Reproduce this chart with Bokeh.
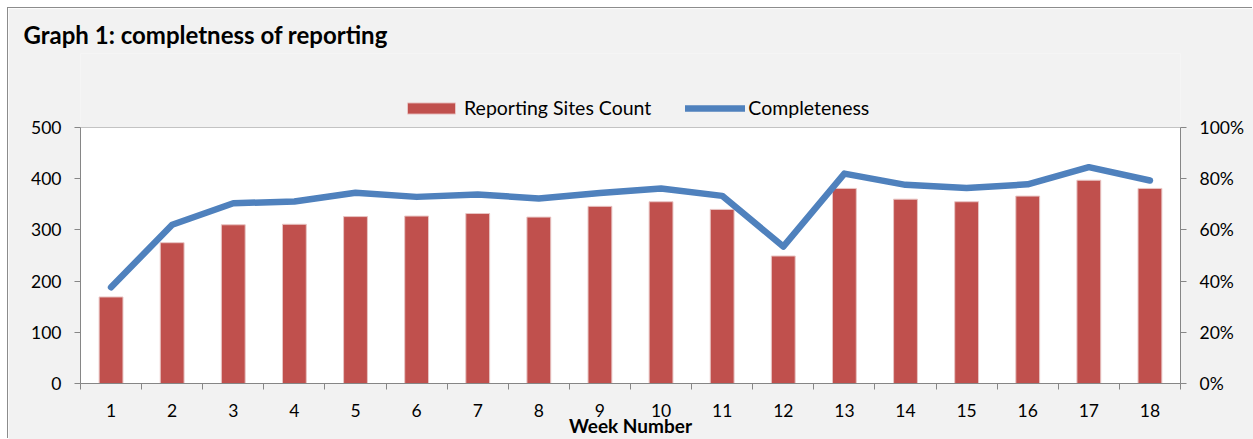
from bokeh.plotting import figure
from bokeh.models import (Range1d, LinearAxis, FixedTicker, PrintfTickFormatter,
                          Legend, LegendItem, Title, BoxAnnotation, ColumnDataSource)
from bokeh.embed import file_html
from bokeh.resources import INLINE

# ---- data ----
weeks = list(range(1, 19))
week_labels = [str(w) for w in weeks]
sites_count = [169, 275, 310, 311, 326, 327, 332, 325, 346, 355, 340, 249, 381, 360, 355, 366, 397, 381]
completeness = [37.6, 62.0, 70.4, 71.1, 74.5, 72.9, 73.8, 72.3, 74.4, 76.2, 73.3, 53.5, 82.0, 77.6, 76.4, 77.8, 84.5, 79.3]
left_ticks = [0, 100, 200, 300, 400, 500]
right_ticks = [0, 20, 40, 60, 80, 100]

title_text = "Graph 1: completness of reporting"
series_bar = "Reporting Sites Count"
series_line = "Completeness"
x_title = "Week Number"

FONT = "Lato"
GRAY = "#868686"
RED = "#C0504D"
BLUE = "#4F81BD"

# layout (pixels)
W, H = 1245, 431
B_LEFT, B_RIGHT, B_TOP, B_BOTTOM = 72, 73, 45, 56
AXIS_PX = 256          # pixel height of the 0..500 axis span
frame_h = H - B_TOP - B_BOTTOM
y_max = left_ticks[-1] * frame_h / AXIS_PX
pct_max = right_ticks[-1] * frame_h / AXIS_PX

src = ColumnDataSource(dict(week=weeks, count=sites_count, pct=completeness))

x0, x1 = weeks[0] - 0.5, weeks[-1] + 0.5
p = figure(width=W, height=H, output_backend="svg", toolbar_location=None,
           x_range=Range1d(x0, x1), y_range=Range1d(0, y_max),
           min_border_left=B_LEFT, min_border_right=B_RIGHT,
           min_border_top=B_TOP, min_border_bottom=B_BOTTOM,
           styles={"margin-left": "8px", "margin-top": "8px",
                   "box-shadow": "-1px -1px 0 0 #8C8C8C"})
p.extra_y_ranges = {"pct": Range1d(0, pct_max)}

p.background_fill_color = "#F2F2F2"
p.border_fill_color = "#F2F2F2"
p.outline_line_color = None

# white plot area (0..500 of the left axis)
p.add_layout(BoxAnnotation(left=x0, right=x1, bottom=left_ticks[0], top=left_ticks[-1],
                           fill_color="white", fill_alpha=1, line_color=None,
                           level="underlay"))

bars = p.vbar(x="week", top="count", width=0.39, source=src, fill_color=RED,
              line_color="#E8C5C4", line_width=1)
line = p.line(x="week", y="pct", source=src, y_range_name="pct", line_color=BLUE,
              line_width=6.5, line_cap="round", line_join="round")

# x axis
xa = p.xaxis[0]
xa.ticker = FixedTicker(ticks=weeks, minor_ticks=[w - 0.5 for w in weeks] + [x1])
xa.major_label_overrides = {w: lab for w, lab in zip(weeks, week_labels)}
xa.major_tick_line_color = None
xa.major_tick_out = 0
xa.major_tick_in = 0
xa.minor_tick_line_color = GRAY
xa.minor_tick_out = 6
xa.minor_tick_in = 0
xa.axis_line_color = GRAY
xa.major_label_text_font = FONT
xa.major_label_text_font_size = "17.5px"
xa.major_label_text_color = "black"
xa.major_label_standoff = 14
xa.axis_label = x_title
xa.axis_label_text_font = FONT
xa.axis_label_text_font_style = "bold"
xa.axis_label_text_font_size = "19px"
xa.axis_label_text_color = "black"
xa.axis_label_standoff = -6

# left y axis
ya = p.yaxis[0]
ya.ticker = FixedTicker(ticks=left_ticks)
ya.bounds = (left_ticks[0], left_ticks[-1])
ya.axis_line_color = GRAY
ya.major_tick_line_color = GRAY
ya.major_tick_out = 6
ya.major_tick_in = 0
ya.minor_tick_line_color = None
ya.major_label_text_font = FONT
ya.major_label_text_font_size = "17.5px"
ya.major_label_text_color = "black"
ya.major_label_standoff = 13

# right y axis
ra = LinearAxis(y_range_name="pct", ticker=FixedTicker(ticks=right_ticks),
                formatter=PrintfTickFormatter(format="%d%%"),
                bounds=(right_ticks[0], right_ticks[-1]))
ra.axis_line_color = GRAY
ra.major_tick_line_color = GRAY
ra.major_tick_out = 6
ra.major_tick_in = 0
ra.minor_tick_line_color = None
ra.major_label_text_font = FONT
ra.major_label_text_font_size = "17.5px"
ra.major_label_text_color = "black"
ra.major_label_standoff = 13
p.add_layout(ra, "right")

p.xgrid.grid_line_color = None
p.ygrid.ticker = FixedTicker(ticks=left_ticks)
p.ygrid.grid_line_color = GRAY
p.ygrid.grid_line_width = 1.2

legend = Legend(items=[LegendItem(label=series_bar, renderers=[bars]),
                       LegendItem(label=series_line, renderers=[line])],
                orientation="horizontal", location=(321, 264),
                background_fill_alpha=0, border_line_color=None,
                padding=0, margin=0, spacing=34, glyph_width=60, glyph_height=14,
                label_standoff=3, label_text_font=FONT, label_text_font_size="19.5px",
                label_text_color="black")
p.add_layout(legend, "center")

p.title = Title(text=title_text, align="left", offset=-57, standoff=10,
                text_font=FONT, text_font_style="bold", text_font_size="24px",
                text_color="black", vertical_align="bottom")

open("out.html", "w").write(file_html(p, INLINE))
